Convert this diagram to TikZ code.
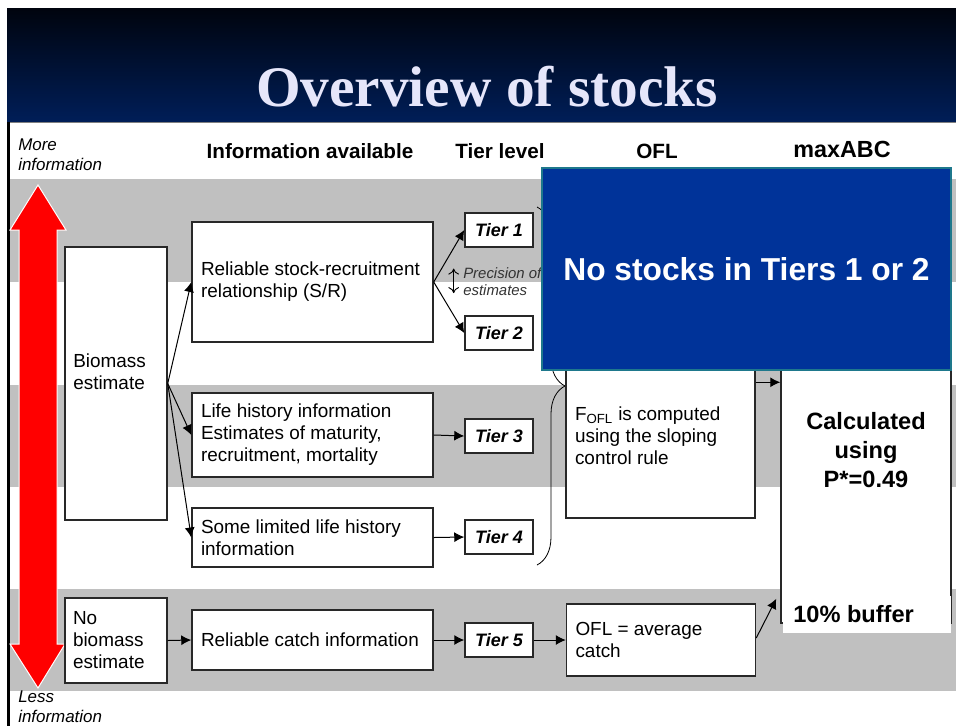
\documentclass[tikz,border=0pt]{standalone}
\usepackage{fontspec}
\setmainfont{Liberation Sans}
\newfontfamily\titlefont{Liberation Serif}
\usetikzlibrary{arrows.meta}
\usetikzlibrary{decorations.pathreplacing}

\definecolor{bandgray}{RGB}{192,192,192}
\definecolor{slidetop}{RGB}{0,4,14}
\definecolor{slidenavy}{RGB}{0,30,88}
\definecolor{titlelav}{RGB}{230,230,250}
\definecolor{noteblue}{RGB}{0,51,153}
\definecolor{noteedge}{RGB}{30,120,140}
\definecolor{boxline}{RGB}{40,40,40}

\begin{document}
\begin{tikzpicture}[
    x=0.75pt, y=-0.75pt,
    infobox/.style={
        % The shape:
        rectangle,
        % The border
        line width=1.1pt,
        draw=boxline,
        % The filling
        fill=white,
        % Text
        inner xsep=6.75pt,
        inner ysep=0pt,
        text width=167.25pt,
        align=flush left,
        font=\fontsize{14.2}{16.5}\selectfont
    },
    tierbox/.style={
        rectangle,
        line width=1.1pt,
        draw=boxline,
        fill=white,
        minimum width=51pt,
        minimum height=25.5pt,
        inner sep=0pt,
        font=\fontsize{13.5}{16}\selectfont\bfseries\itshape
    },
    colhead/.style={font=\fontsize{15.5}{18}\selectfont\bfseries},
    sidenote/.style={
        anchor=west,
        align=flush left,
        inner sep=0pt,
        font=\fontsize{12.7}{15}\selectfont\itshape
    },
    arrow/.style={-{Latex[length=7.5pt,width=7.5pt]}, line width=0.75pt}
]
    \useasboundingbox (0,0) rectangle (956,726);

    % Slide header
    \shade[top color=slidetop, bottom color=slidenavy] (7,8) rectangle (956,122);
    \node (title) [anchor=base, text=titlelav,
        font=\titlefont\fontsize{43}{50}\selectfont\bfseries] at (487,106) {Overview of stocks};
    \fill[black] (7,122) rectangle (10,726);
    \draw[gray, line width=0.75pt] (10,122) -- (956,122);

    % Gray bands
    \foreach \ytop/\ybot in {179/282, 385/487, 589/691}
    {
        \fill[bandgray] (10,\ytop) rectangle (956,\ybot);
    }
    \fill[bandgray] (755,360) rectangle (781,487);

    % Column heads
    \node (hinfo) [colhead] at (310,151) {Information available};
    \node (htier) [colhead] at (500,151) {Tier level};
    \node (hofl)  [colhead] at (657,151) {OFL};
    \node (habc)  [colhead, font=\fontsize{17.5}{20}\selectfont\bfseries] at (842,149) {maxABC};
    \node (more) [sidenote] at (18,155) {More\\information};
    \node (less) [sidenote] at (18,707) {Less\\information};

    % Red double arrow
    \draw[fill=red, draw=white, line width=0.75pt]
        (38,185) -- (66,230) -- (57,230) -- (57,644) -- (65,644) -- (38,688)
        -- (10,644) -- (19,644) -- (19,230) -- (10,230) -- cycle;

    % Boxes
    \node (bio) [infobox, text width=64.5pt, inner xsep=6pt, minimum height=204.75pt] at (116,383.5) {};
    \node (biotext) [anchor=west, align=flush left, inner sep=0pt,
        font=\fontsize{14.2}{16.5}\selectfont] at (73,372) {Biomass\\estimate};
    \node (nobio) [infobox, text width=64.5pt, inner xsep=6pt, minimum height=63.75pt] at (116,640.5) {No\\biomass\\estimate};

    \node (sr)      [infobox, minimum height=90pt]    at (312.5,282)   {Reliable stock-recruitment\\relationship (S/R)};
    \node (life)    [infobox, minimum height=63pt]    at (312.5,435)   {Life history information\\Estimates of maturity,\\recruitment, mortality};
    \node (limited) [infobox, minimum height=44.25pt] at (312.5,537.5) {Some limited life history\\information};
    \node (catch)   [infobox, minimum height=45pt]    at (312.5,640)   {Reliable catch information};

    \foreach \t/\y in {1/230, 2/333, 3/436, 4/537, 5/640}
    {
        \node (tier\t) [tierbox] at (499,\y) {Tier \t};
    }

    \node (prec) [anchor=west, align=flush left, inner sep=0pt, text=black!80,
        font=\fontsize{11.2}{12.75}\selectfont\itshape] at (463,281.5) {Precision of\\estimates};
    \draw[{To[length=4.5pt,width=8pt]}-{To[length=4.5pt,width=8pt]}, line width=0.7pt]
        ([xshift=-7pt,yshift=-1pt]prec.north west) -- ([xshift=-7pt,yshift=2pt]prec.south west);

    % Brace over tiers 1 to 4
    \draw[decorate, decoration={brace, amplitude=21pt}, line width=0.6pt] (537,207) -- (537,565);

    \node (ofl)  [infobox, text width=128.25pt, minimum height=123pt] at (660.5,436)
        {F\textsubscript{OFL} is computed\\using the sloping\\control rule};
    \node (ofla) [infobox, text width=128.25pt, minimum height=54pt] at (661,640)
        {OFL = average\\catch};

    \node (abc) [infobox, text width=114pt, align=center, minimum height=259.5pt,
        font=\fontsize{17.7}{21.75}\selectfont\bfseries] at (866,450) {Calculated\\using\\P*=0.49};
    \node (buffer) [anchor=south west, fill=white, minimum width=126pt, minimum height=27.75pt,
        text width=111pt, inner xsep=7.5pt, inner ysep=0pt, align=flush left,
        font=\fontsize{17.7}{21}\selectfont\bfseries] at (783,633) {10\% buffer};

    % Connectors
    \foreach \dest in {sr, life, limited}
    {
        \draw[arrow] (bio.east) -- (\dest.west);
    }
    \draw[arrow] (sr.east) -- (tier1.west);
    \draw[arrow] (sr.east) -- (tier2.west);
    \draw[arrow] (life.east) -- (tier3.west);
    \draw[arrow] (limited.east) -- (tier4.west);
    \draw[arrow] (catch.east) -- (tier5.west);
    \draw[arrow] (nobio.east) -- (catch.west);
    \draw[arrow] (tier5.east) -- (ofla.west);
    \draw[arrow] ([yshift=-21.75pt]ofl.north east) -- ([yshift=-21.75pt]ofl.north east -| abc.west);
    \draw[arrow] ([yshift=1.5pt]ofla.east) -- ([shift={(-3pt,18.75pt)}]abc.south west);

    % Overlay note
    \node (note) [fill=noteblue, draw=noteedge, line width=1.5pt,
        minimum width=306.75pt, minimum height=151.5pt, text=white,
        font=\fontsize{23.8}{28}\selectfont\bfseries] at (746.5,269) {No stocks in Tiers 1 or 2};
\end{tikzpicture}
\end{document}
